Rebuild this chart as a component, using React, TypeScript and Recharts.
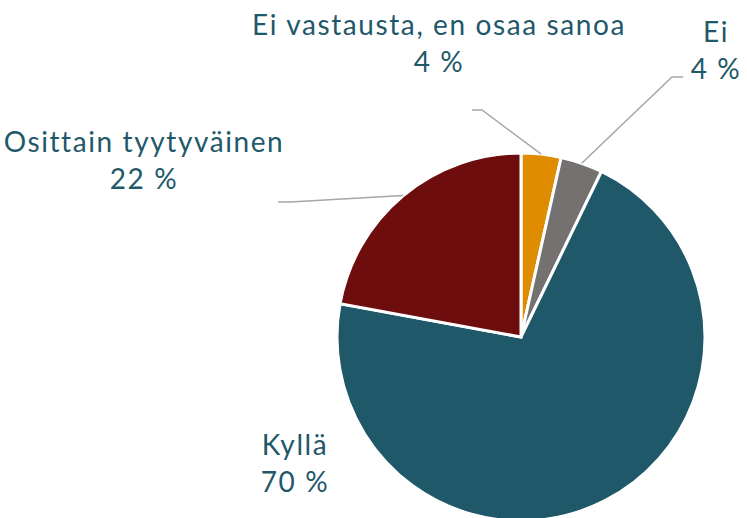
import { PieChart, Pie, Cell } from 'recharts';

const categories = ['Ei vastausta, en osaa sanoa', 'Ei', 'Kyllä', 'Osittain tyytyväinen'];
const shares = [3.5, 3.7, 70.7, 22.1];
const shareLabels = ['4 %', '4 %', '70 %', '22 %'];
const colors = ['#E08C00', '#767171', '#1F5869', '#6E0D0D'];

const data = categories.map((name, i) => ({ name, value: shares[i], label: shareLabels[i] }));

const CX = 521;
const CY = 337;
const R = 184;
const TEXT = '#1F5869';
const RAD = Math.PI / 180;

// label placement relative to pie centre: text centre + baseline of first line, optional leader elbow/end
const labelLayout = [
  { tx: -82, ty: -302, elbow: [-39, -227], end: [-49, -227] },
  { tx: 195, ty: -295, elbow: [151, -260], end: [162, -260] },
  { tx: -226, ty: 118, elbow: null, end: null },
  { tx: -377, ty: -185, elbow: [-231, -135], end: [-243, -135] },
];

const textStyle = { fontSize: 28, fontFamily: 'Lato, sans-serif', letterSpacing: 1.6 };

function renderLabel(props: any) {
  const { cx, cy, midAngle, outerRadius, index, payload } = props;
  const lay = labelLayout[index];
  const sx = cx + outerRadius * Math.cos(-midAngle * RAD);
  const sy = cy + outerRadius * Math.sin(-midAngle * RAD);
  const tx = cx + lay.tx;
  const ty = cy + lay.ty;
  return (
    <g>
      {lay.elbow && lay.end && (
        <polyline
          points={`${sx},${sy} ${cx + lay.elbow[0]},${cy + lay.elbow[1]} ${cx + lay.end[0]},${cy + lay.end[1]}`}
          fill="none"
          stroke="#A6A6A6"
          strokeWidth={1.5}
        />
      )}
      <text x={tx} y={ty} textAnchor="middle" fill={TEXT} style={textStyle}>
        {payload.name}
      </text>
      <text x={tx} y={ty + 37} textAnchor="middle" fill={TEXT} style={textStyle}>
        {payload.label}
      </text>
    </g>
  );
}

export default function App() {
  return (
    <div style={{ position: 'absolute', left: 0, top: 0, width: 747, height: 518, background: '#fff' }}>
      <PieChart width={747} height={518} margin={{ top: 0, right: 0, bottom: 0, left: 0 }}>
        <Pie
          data={data}
          dataKey="value"
          nameKey="name"
          cx={CX}
          cy={CY}
          outerRadius={R}
          startAngle={90}
          endAngle={-270}
          stroke="#fff"
          strokeWidth={3}
          label={renderLabel}
          labelLine={false}
          isAnimationActive={false}
        >
          {data.map((d, i) => (
            <Cell key={d.name} fill={colors[i]} />
          ))}
        </Pie>
      </PieChart>
    </div>
  );
}
